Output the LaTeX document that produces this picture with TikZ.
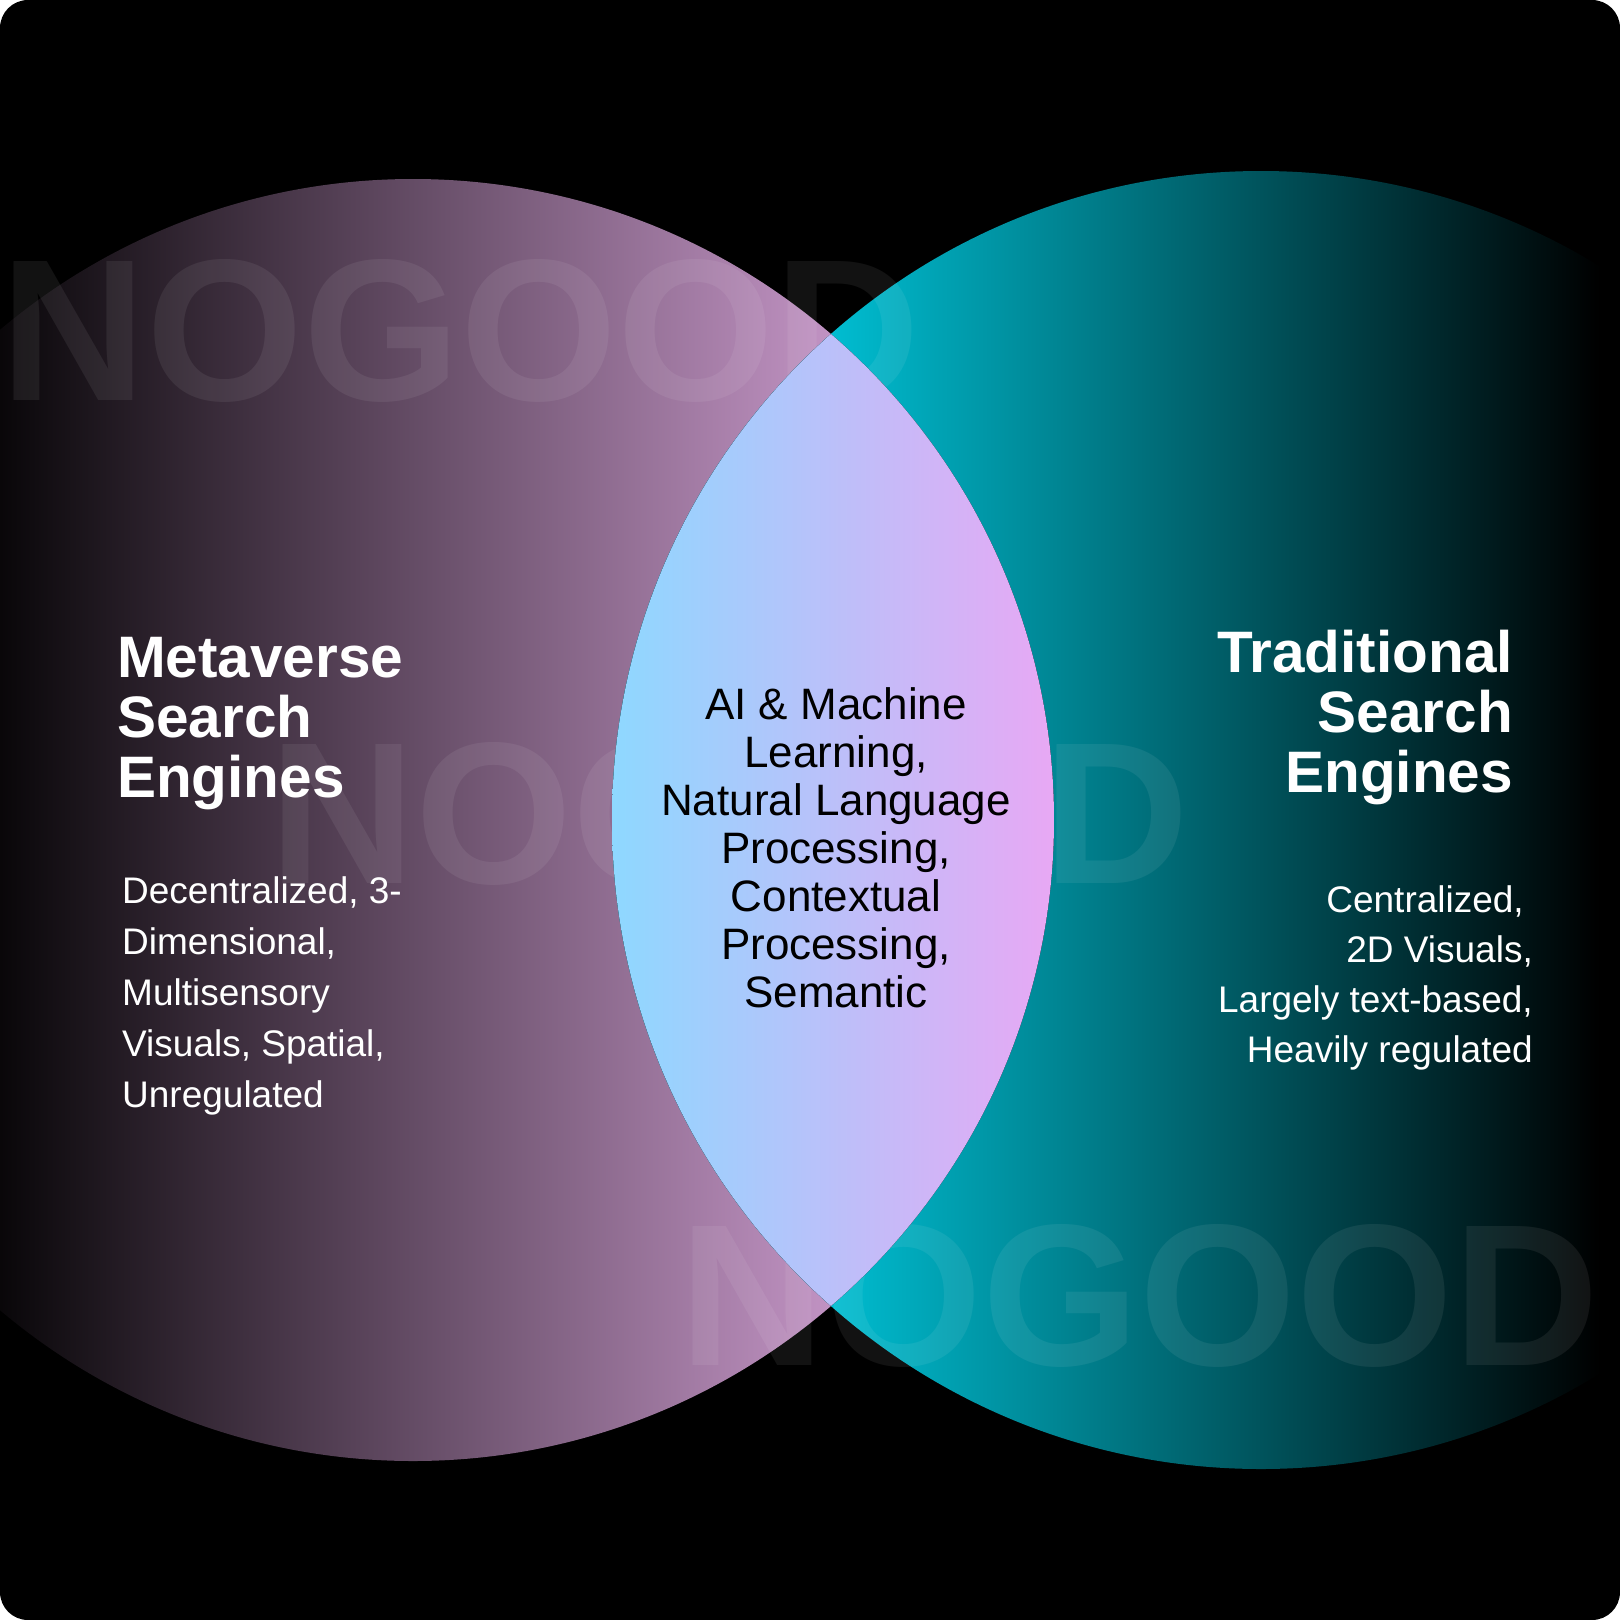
\documentclass[tikz,border=0pt]{standalone}
\usepackage{fontspec}
\setmainfont{Liberation Sans}
\definecolor{mauveEnd}{HTML}{C394C5}
\definecolor{mauveMid}{HTML}{4B444C}
\definecolor{cyanStart}{HTML}{00BDD1}
\definecolor{lensBlue}{HTML}{8ED8FF}
\definecolor{lensPink}{HTML}{E8A8F4}
\tikzset{
  titleText/.style = {text=white, inner sep=0pt,
    font=\bfseries\fontsize{58.5}{60}\selectfont},
  bodyText/.style = {text=white, inner sep=0pt,
    font=\fontsize{37}{51}\selectfont},
  lensText/.style = {text=black, inner sep=0pt, align=center,
    font=\fontsize{44}{48}\selectfont},
  markText/.style = {text=white, text opacity=0.07, inner sep=0pt,
    anchor=base west, font=\bfseries\fontsize{202}{202}\selectfont},
  leftDisc/.style = {insert path={(413,820) circle[radius=641pt]}},
  rightDisc/.style = {insert path={(1261,820) circle[radius=649pt]}}
}
\begin{document}
\begin{tikzpicture}[x=1pt, y=-1pt]
  \useasboundingbox (0,0) rectangle (1620,1620);
  \fill[white] (0,0) rectangle (1620,1620);
  \begin{scope}
    \clip[rounded corners=28pt] (0,0) rectangle (1620,1620);
    \fill[black] (0,0) rectangle (1620,1620);
    % left disc
    \begin{scope}
      \clip[leftDisc];
      \fill[left color=black, middle color=mauveMid, right color=mauveEnd]
        (-40,170) rectangle (840,1470);
    \end{scope}
    % right disc
    \begin{scope}
      \clip[rightDisc];
      \fill[cyanStart] (600,160) rectangle (832,1480);
      \fill[left color=cyanStart, right color=black] (830,160) rectangle (1600,1480);
    \end{scope}
    % watermark
    \node[markText] (markTop) at (0,400) {NOGOOD};
    \node[markText] (markMid) at (269,883) {NOGOOD};
    \node[markText] (markLow) at (679,1365) {NOGOOD};
    % lens
    \begin{scope}
      \clip[leftDisc];
      \clip[rightDisc];
      \fill[left color=lensBlue, right color=lensPink] (612,320) rectangle (1054,1320);
    \end{scope}
  \end{scope}

  % base anchors sit on the last line
  \node[titleText, anchor=base west, align=left] (metaTitle) at (117,797)
    {Metaverse\\Search\\Engines};
  \node[bodyText, anchor=base west, align=left] (metaBody) at (122,1107)
    {Decentralized, 3-\\Dimensional,\\Multisensory\\Visuals, Spatial,\\Unregulated};
  \node[lensText, anchor=base] (sharedBody) at (836,1007)
    {AI \& Machine\\Learning,\\Natural Language\\Processing,\\Contextual\\Processing,\\Semantic};
  \node[titleText, anchor=base east, align=right] (tradTitle) at (1513,792)
    {Traditional\\Search\\Engines};
  \node[bodyText, anchor=base east, align=right, font=\fontsize{37}{50}\selectfont]
    (tradBody) at (1533,1062)
    {Centralized,\hspace*{9pt}\\2D Visuals,\hspace*{9pt}\\Largely text-based,\hspace*{9pt}\\Heavily regulated};
\end{tikzpicture}
\end{document}
